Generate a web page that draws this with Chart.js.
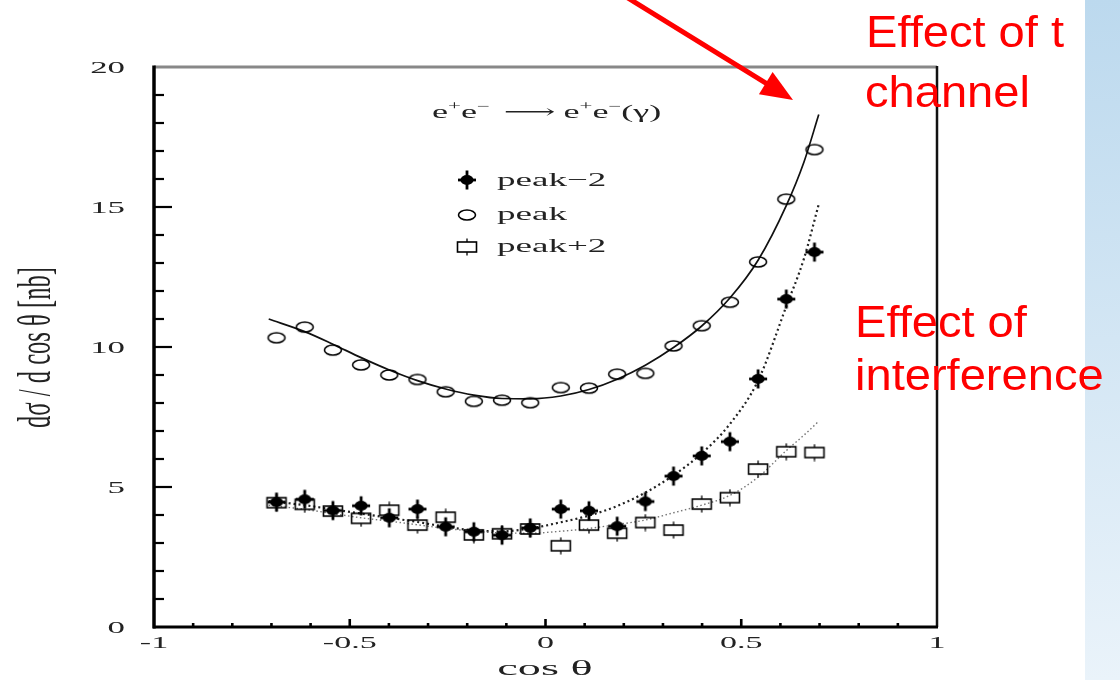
<!DOCTYPE html>
<html>
<head>
<meta charset="utf-8">
<script src="https://cdn.jsdelivr.net/npm/chart.js@4.4.1/dist/chart.umd.min.js"></script>
<style>
html,body{margin:0;padding:0;background:#fff;overflow:hidden}
#wrap{position:relative;width:1120px;height:680px}
</style>
</head>
<body>
<div id="wrap"><canvas id="c" width="1120" height="680"></canvas></div>
<script>
// ---------------- data ----------------
const cosTheta = [-0.687,-0.615,-0.543,-0.471,-0.399,-0.327,-0.255,-0.183,-0.111,-0.039,
                   0.039, 0.111, 0.183, 0.255, 0.327, 0.399, 0.471, 0.543, 0.615, 0.687];
const peakMinus2 = [4.46,4.56,4.16,4.33,3.90,4.21,3.58,3.40,3.28,3.54,
                    4.21,4.15,3.60,4.48,5.39,6.11,6.62,8.86,11.71,13.39];
const peak       = [10.33,10.71,9.89,9.36,9.00,8.84,8.40,8.06,8.10,8.01,
                    8.55,8.53,9.03,9.06,10.04,10.76,11.60,13.04,15.28,17.05];
const peakPlus2  = [4.44,4.38,4.14,3.88,4.17,3.64,3.92,3.29,3.33,3.50,
                    2.90,3.64,3.35,3.73,3.46,4.39,4.62,5.64,6.26,6.23];

// fitted curves
const fitX           = [-0.707,-0.615,-0.543,-0.471,-0.399,-0.327,-0.255,-0.183,-0.111,-0.039,
                         0.039, 0.111, 0.183, 0.255, 0.327, 0.399, 0.471, 0.543, 0.615, 0.660, 0.698];
const fitPeak        = [11.00,10.55,10.10,9.62,9.18,8.80,8.50,8.28,8.16,8.15,
                        8.25,8.48,8.85,9.35,9.98,10.75,11.75,13.10,15.05,16.60,18.30];
const fitPeakMinus2  = [4.50,4.35,4.20,4.05,3.90,3.75,3.58,3.45,3.42,3.52,
                        3.74,3.98,4.32,4.80,5.42,6.20,7.25,8.80,11.45,13.15,15.10];
const fitPeakPlus2   = [4.35,4.20,4.05,3.90,3.78,3.65,3.52,3.42,3.36,3.35,
                        3.42,3.52,3.66,3.82,4.08,4.35,4.70,5.35,6.30,6.85,7.35];

const xTicks = [-1,-0.5,0,0.5,1];
const yTicks = [0,5,10,15,20];
const seriesNames = ['peak\u22122','peak','peak+2'];

// ---------------- marker images ----------------
function makeCross(){
  const c=document.createElement('canvas'); c.width=22; c.height=22;
  const g=c.getContext('2d'); g.fillStyle='#000';
  g.beginPath(); g.ellipse(11,11,6.5,5,0,0,Math.PI*2); g.fill();
  g.fillRect(2,9.6,18,2.8);
  g.fillRect(9.6,1.5,2.8,19);
  return c;
}
function makeCircle(){
  const c=document.createElement('canvas'); c.width=22; c.height=14;
  const g=c.getContext('2d'); g.strokeStyle='#000'; g.lineWidth=1.6;
  g.beginPath(); g.ellipse(11,7,8.5,5,0,0,Math.PI*2); g.stroke();
  return c;
}
function makeSquare(){
  const c=document.createElement('canvas'); c.width=24; c.height=18;
  const g=c.getContext('2d'); g.strokeStyle='#000'; g.lineWidth=1.6;
  g.strokeRect(2.5,4,19,10);
  g.lineWidth=1.3; g.beginPath(); g.moveTo(12,0.5); g.lineTo(12,4); g.moveTo(12,14); g.lineTo(12,17.5); g.stroke();
  return c;
}
const crossImg=makeCross(), circleImg=makeCircle(), squareImg=makeSquare();

const pts = ys => cosTheta.map((x,i)=>({x:x,y:ys[i]}));
const fit = ys => fitX.map((x,i)=>({x:x,y:ys[i]}));

// ---------------- helpers ----------------
const SERIF = '"Liberation Serif","DejaVu Serif",serif';
function stretchText(ctx, txt, x, y, font, sx, align){
  ctx.save();
  ctx.font = font; ctx.textBaseline='alphabetic'; ctx.textAlign='left';
  const w = ctx.measureText(txt).width*sx;
  const left = align==='right' ? x-w : (align==='center' ? x-w/2 : x);
  ctx.translate(left,y); ctx.scale(sx,1);
  ctx.fillText(txt,0,0);
  ctx.restore();
  return w;
}

const decor = {
  id:'decor',
  beforeDraw(chart){
    const ctx=chart.ctx;
    ctx.save();
    ctx.fillStyle='#fff'; ctx.fillRect(0,0,chart.width,chart.height);
    const gr=ctx.createLinearGradient(1085,0,1120,680);
    gr.addColorStop(0,'#bcd9ee'); gr.addColorStop(1,'#eaf3fa');
    ctx.fillStyle=gr; ctx.fillRect(1085,0,35,680);
    ctx.restore();
  },
  afterDraw(chart){
    const ctx=chart.ctx, xs=chart.scales.x, ys=chart.scales.y;
    const L=xs.left, R=xs.right, T=ys.top, B=ys.bottom;
    ctx.save();
    // frame
    ctx.strokeStyle='#888'; ctx.lineWidth=3;
    ctx.beginPath(); ctx.moveTo(L,T); ctx.lineTo(R,T); ctx.stroke();
    ctx.strokeStyle='#111'; ctx.lineWidth=2.5;
    ctx.beginPath(); ctx.moveTo(R,T-1); ctx.lineTo(R,B); ctx.stroke();
    ctx.strokeStyle='#000'; ctx.lineWidth=3;
    ctx.beginPath(); ctx.moveTo(L-1,B); ctx.lineTo(R+1,B); ctx.stroke();
    ctx.lineWidth=3.5;
    ctx.beginPath(); ctx.moveTo(L,T-1.5); ctx.lineTo(L,B+1.5); ctx.stroke();
    // y ticks (inward)
    ctx.lineWidth=2.2;
    for(let v=Math.ceil(ys.min)+1; v<ys.max; v++){
      const py=ys.getPixelForValue(v), len=(v%5===0)?18:10;
      ctx.beginPath(); ctx.moveTo(L,py); ctx.lineTo(L+len,py); ctx.stroke();
    }
    // x ticks (inward)
    ctx.lineWidth=2.6;
    for(let k=-9;k<=9;k++){
      const v=k/10, px=xs.getPixelForValue(v), len=(k%5===0)?8:4;
      ctx.beginPath(); ctx.moveTo(px,B); ctx.lineTo(px,B-len); ctx.stroke();
    }
    // tick labels from the scales' ticks
    ctx.fillStyle='#222';
    ys.ticks.forEach(t=>{
      stretchText(ctx, String(t.value), 125, ys.getPixelForValue(t.value)+6, '17px '+SERIF, 2.05, 'right');
    });
    xs.ticks.forEach(t=>{
      stretchText(ctx, String(t.value), xs.getPixelForValue(t.value), 648, '17px '+SERIF, 2.0, 'center');
    });
    // axis titles
    ctx.fillStyle='#222';
    stretchText(ctx, 'cos \u03b8', 545, 675, '22px '+SERIF, 2.1, 'center');
    ctx.save();
    ctx.translate(50, 347.5); ctx.rotate(-Math.PI/2);
    ctx.font='46px '+SERIF;
    const yt='d\u03c3 / d cos \u03b8 [nb]';
    const wy=ctx.measureText(yt).width, sy=161/wy;
    ctx.scale(sy,1); ctx.textAlign='center'; ctx.textBaseline='alphabetic';
    ctx.fillText(yt,0,0);
    ctx.restore();
    // process label e+e- -> e+e-(gamma)
    const big='19px '+SERIF, small='12px '+SERIF, s=1.9;
    let x=432; const yb=118;
    const piece=(t,f,dy)=>{ x+=stretchText(ctx,t,x,yb+dy,f,s,'left'); };
    piece('e',big,0); piece('+',small,-8); piece('e',big,0); piece('\u2212',small,-8);
    x+=14; piece('\u27f6',big,0); x+=8;
    piece('e',big,0); piece('+',small,-8); piece('e',big,0); piece('\u2212',small,-8); piece('(\u03b3)',big,0);
    // legend
    const imgs=[crossImg,circleImg,squareImg], ly=[180,215,247], lb=[186,220,252];
    imgs.forEach((im,i)=>{
      ctx.drawImage(im, 467-im.width/2, ly[i]-im.height/2);
      stretchText(ctx, seriesNames[i], 497, lb[i], '19px '+SERIF, 1.95, 'left');
    });
    // red annotations
    ctx.fillStyle='#ff0000';
    const sans='44px "Liberation Sans",Arial,sans-serif';
    stretchText(ctx,'Effect of t',866,47,sans,1.07,'left');
    stretchText(ctx,'channel',865,107,sans,1.07,'left');
    stretchText(ctx,'Effect of',855,337,sans,1.07,'left');
    stretchText(ctx,'interference',855,390,sans,1.07,'left');
    // red arrow
    const sx0=615, sy0=-10, tx=793, ty=100;
    const dx=tx-sx0, dy=ty-sy0, d=Math.hypot(dx,dy), ux=dx/d, uy=dy/d;
    const hl=32, hw=13, bx=tx-hl*ux, by=ty-hl*uy;
    ctx.strokeStyle='#ff0000'; ctx.lineWidth=5; ctx.lineCap='butt';
    ctx.beginPath(); ctx.moveTo(sx0,sy0); ctx.lineTo(bx+2*ux,by+2*uy); ctx.stroke();
    ctx.beginPath(); ctx.moveTo(tx,ty); ctx.lineTo(bx-hw*uy,by+hw*ux); ctx.lineTo(bx+hw*uy,by-hw*ux); ctx.closePath(); ctx.fill();
    ctx.restore();
  }
};

new Chart(document.getElementById('c'), {
  type:'scatter',
  data:{ datasets:[
    {label:seriesNames[0], data:pts(peakMinus2), pointStyle:crossImg, order:0},
    {label:seriesNames[1], data:pts(peak), pointStyle:circleImg, order:1},
    {label:seriesNames[2], data:pts(peakPlus2), pointStyle:squareImg, order:2},
    {label:'fit peak', data:fit(fitPeak), showLine:true, pointRadius:0, borderColor:'#111', borderWidth:1.7, cubicInterpolationMode:'monotone', order:5},
    {label:'fit peak-2', data:fit(fitPeakMinus2), showLine:true, pointRadius:0, borderColor:'#222', borderWidth:2.2, borderDash:[2,3], cubicInterpolationMode:'monotone', order:4},
    {label:'fit peak+2', data:fit(fitPeakPlus2), showLine:true, pointRadius:0, borderColor:'#777', borderWidth:1.4, borderDash:[1.5,2.5], cubicInterpolationMode:'monotone', order:3}
  ]},
  options:{
    responsive:false, animation:false, devicePixelRatio:1,
    layout:{padding:{left:154,right:183,top:67,bottom:53}},
    plugins:{legend:{display:false}, tooltip:{enabled:false}},
    scales:{
      x:{type:'linear', min:-1, max:1,
         afterBuildTicks:s=>{ s.ticks=xTicks.map(v=>({value:v})); },
         ticks:{display:false}, grid:{display:false}, border:{display:false},
         afterFit:s=>{ s.height=0; }},
      y:{type:'linear', min:0, max:20,
         afterBuildTicks:s=>{ s.ticks=yTicks.map(v=>({value:v})); },
         ticks:{display:false}, grid:{display:false}, border:{display:false},
         afterFit:s=>{ s.width=0; }}
    }
  },
  plugins:[decor]
});
</script>
</body>
</html>
